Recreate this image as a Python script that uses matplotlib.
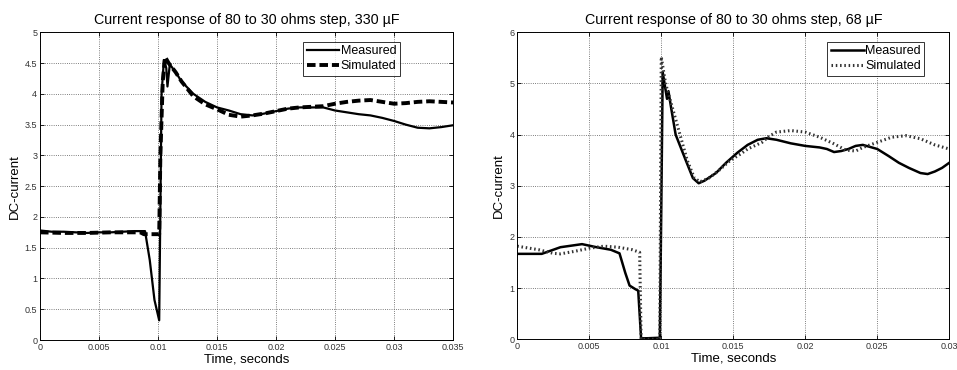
import matplotlib.pyplot as plt
import numpy as np

# 330 uF case
t1_meas = [0, 0.001, 0.002, 0.003, 0.004, 0.005, 0.006, 0.007, 0.008, 0.0089,
           0.0093, 0.0097, 0.0101, 0.0103, 0.0105, 0.0107, 0.0108, 0.011, 0.0115,
           0.012, 0.013, 0.014, 0.015, 0.016, 0.017, 0.018, 0.019, 0.020, 0.021,
           0.022, 0.023, 0.024, 0.025, 0.026, 0.027, 0.028, 0.029, 0.030, 0.031,
           0.032, 0.033, 0.034, 0.035]
i1_meas = [1.78, 1.76, 1.76, 1.75, 1.74, 1.75, 1.75, 1.76, 1.77, 1.77,
           1.3, 0.65, 0.32, 4.0, 4.55, 4.42, 4.12, 4.48, 4.35,
           4.2, 4.0, 3.87, 3.78, 3.73, 3.67, 3.65, 3.68, 3.72, 3.76,
           3.78, 3.78, 3.78, 3.73, 3.70, 3.67, 3.65, 3.61, 3.56, 3.5,
           3.45, 3.44, 3.46, 3.49]
t1_sim = [0, 0.002, 0.004, 0.006, 0.0085, 0.0088, 0.0101, 0.0102, 0.0104, 0.0106,
          0.0109, 0.0115, 0.012, 0.013, 0.014, 0.015, 0.016, 0.017, 0.018, 0.019,
          0.020, 0.021, 0.022, 0.023, 0.024, 0.025, 0.026, 0.027, 0.028, 0.029,
          0.030, 0.031, 0.032, 0.033, 0.034, 0.035]
i1_sim = [1.75, 1.74, 1.74, 1.75, 1.75, 1.72, 1.72, 3.0, 4.2, 4.6,
          4.5, 4.35, 4.2, 3.96, 3.83, 3.75, 3.66, 3.63, 3.65, 3.68,
          3.72, 3.76, 3.78, 3.79, 3.8, 3.84, 3.87, 3.89, 3.9, 3.87,
          3.84, 3.85, 3.87, 3.88, 3.87, 3.86]

# 68 uF case
t2_meas = [0, 0.0017, 0.003, 0.0045, 0.0055, 0.0065, 0.0071, 0.0075, 0.0078,
           0.0082, 0.0084, 0.0086, 0.009, 0.0099, 0.01, 0.0101, 0.0104, 0.0105,
           0.0107, 0.011, 0.0117, 0.0122, 0.0126, 0.013, 0.0138, 0.0145, 0.0153,
           0.016, 0.0167, 0.0173, 0.018, 0.019, 0.020, 0.021, 0.0215, 0.022,
           0.0225, 0.023, 0.0235, 0.024, 0.025, 0.0258, 0.0265, 0.0272, 0.028,
           0.0285, 0.029, 0.0295, 0.030]
i2_meas = [1.67, 1.67, 1.8, 1.86, 1.8, 1.75, 1.68, 1.3, 1.05,
           0.98, 0.95, 0.02, 0.02, 0.03, 2.5, 5.22, 4.7, 4.85,
           4.5, 4.0, 3.5, 3.15, 3.05, 3.1, 3.25, 3.45, 3.65,
           3.8, 3.9, 3.93, 3.9, 3.83, 3.78, 3.75, 3.72, 3.66,
           3.68, 3.72, 3.78, 3.8, 3.72, 3.58, 3.45, 3.35, 3.25,
           3.23, 3.28, 3.35, 3.45]
t2_sim = [0, 0.0015, 0.0025, 0.003, 0.004, 0.005, 0.006, 0.007, 0.008, 0.0085,
          0.0086, 0.0099, 0.01, 0.0103, 0.0108, 0.0113, 0.0118, 0.0123, 0.0127,
          0.0133, 0.014, 0.0148, 0.0155, 0.016, 0.017, 0.0175, 0.018, 0.019,
          0.020, 0.021, 0.022, 0.0228, 0.0235, 0.024, 0.025, 0.026, 0.027,
          0.028, 0.029, 0.030]
i2_sim = [1.82, 1.75, 1.68, 1.67, 1.72, 1.78, 1.82, 1.8, 1.75, 1.7,
          0.0, 0.0, 5.52, 5.0, 4.5, 4.0, 3.5, 3.15, 3.08,
          3.15, 3.3, 3.5, 3.62, 3.72, 3.85, 3.97, 4.05, 4.08,
          4.05, 3.95, 3.82, 3.7, 3.68, 3.75, 3.85, 3.95, 3.98,
          3.92, 3.8, 3.72]

plt.rcParams['font.family'] = ['Liberation Sans', 'DejaVu Sans']

fig = plt.figure(figsize=(9.57, 3.7), dpi=100)
ax1 = fig.add_axes([0.0418, 0.081, 0.4316, 0.8316])
ax2 = fig.add_axes([0.5405, 0.083, 0.4514, 0.8296])


def style(ax, xmax, ymax, ystep, title):
    ax.set_xlim(0, xmax)
    ax.set_ylim(0, ymax)
    ax.set_xticks(np.arange(0, xmax + 1e-9, 0.005))
    ax.set_xticklabels([('%g' % v) for v in np.arange(0, xmax + 1e-9, 0.005)])
    ax.set_yticks(np.arange(0, ymax + 1e-9, ystep))
    ax.set_yticklabels([('%g' % v) for v in np.arange(0, ymax + 1e-9, ystep)])
    ax.tick_params(direction='in', labelsize=6.5, length=3, width=0.6,
                   top=True, right=True, pad=2, labelcolor='#333333')
    ax.grid(True, linestyle=':', color='#555555', linewidth=0.6)
    for s in ax.spines.values():
        s.set_linewidth(0.7)
    ax.set_title(title, fontsize=10.3, pad=6)
    ax.set_xlabel('Time, seconds', fontsize=9.5, labelpad=1)
    ax.set_ylabel('DC-current', fontsize=9.5, labelpad=3)


ax1.plot(t1_meas, i1_meas, color='black', linewidth=1.6, label='Measured')
ax1.plot(t1_sim, i1_sim, color='black', linewidth=2.8, linestyle=(0, (2.2, 1.0)),
         label='Simulated')
style(ax1, 0.035, 5, 0.5, 'Current response of 80 to 30 ohms step, 330 µF')
ax1.legend(loc='upper right', fontsize=9, frameon=True, fancybox=False,
           edgecolor='black', handlelength=2.6, handletextpad=0.1,
           borderpad=0.3, labelspacing=0.2, borderaxespad=0.5,
           bbox_to_anchor=(0.887, 0.99)).get_frame().set_linewidth(0.7)

ax2.plot(t2_meas, i2_meas, color='black', linewidth=1.8, label='Measured')
ax2.plot(t2_sim, i2_sim, color='#333333', linewidth=2.2, linestyle=(0, (0.5, 0.9)),
         label='Simulated')
style(ax2, 0.03, 6, 1, 'Current response of 80 to 30 ohms step, 68 µF')
ax2.set_xticklabels(['0', '0.005', '0.01', '0.015', '0.02', '0.025', '0.03'])
ax2.legend(loc='upper right', fontsize=9, frameon=True, fancybox=False,
           edgecolor='black', handlelength=2.6, handletextpad=0.1,
           borderpad=0.3, labelspacing=0.2, borderaxespad=0.5,
           bbox_to_anchor=(0.957, 0.99)).get_frame().set_linewidth(0.7)

plt.savefig('out.png', dpi=100)
